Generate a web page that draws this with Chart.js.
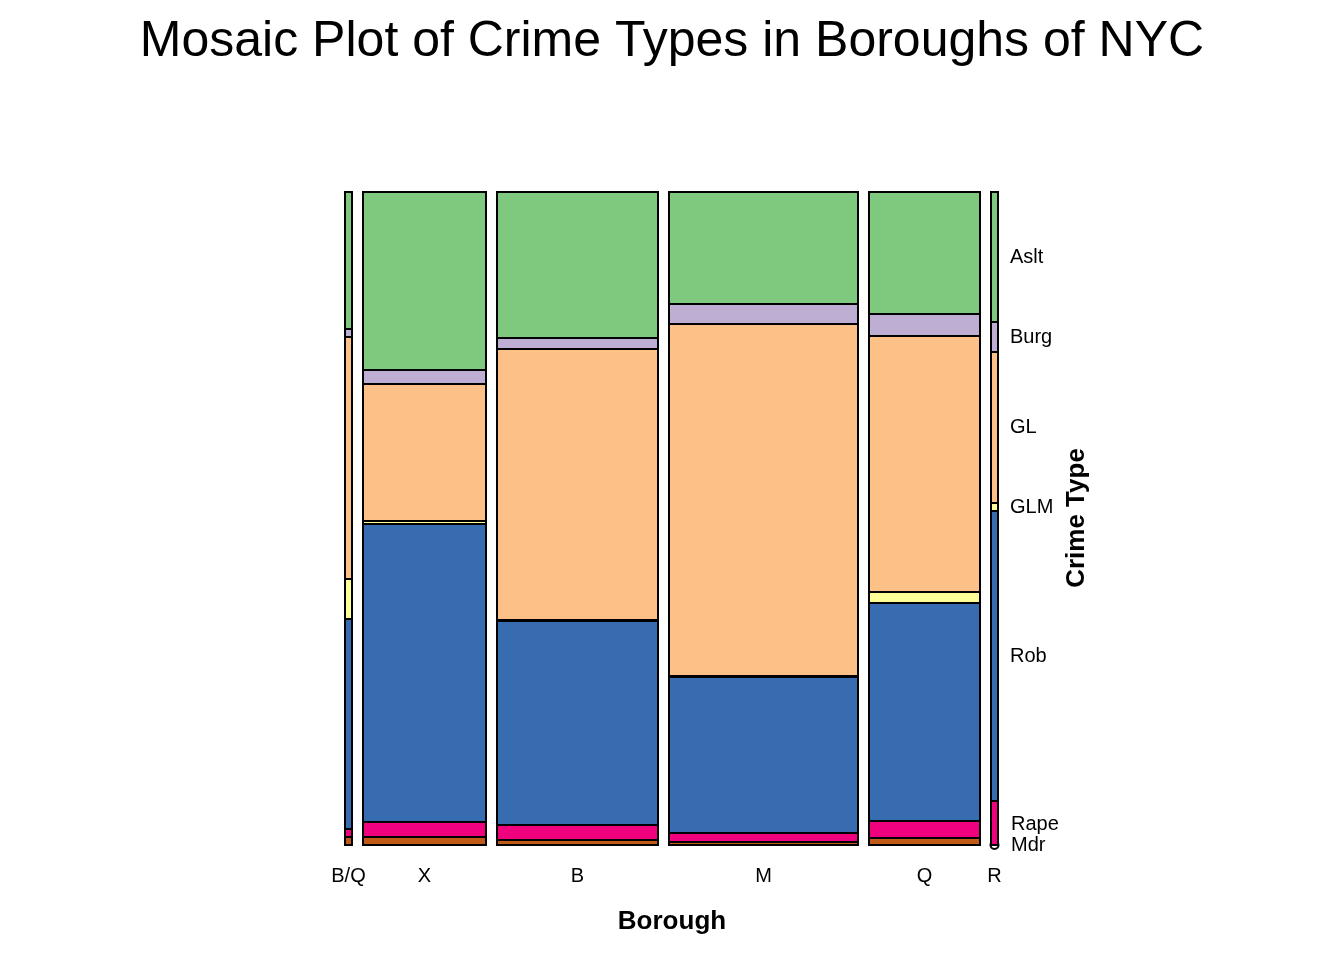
<!DOCTYPE html>
<html>
<head>
<meta charset="utf-8">
<script src="https://cdn.jsdelivr.net/npm/chart.js@4.4.0/dist/chart.umd.min.js"></script>
<style>
  html, body { margin: 0; padding: 0; background: #fff; }
  #wrap { width: 1344px; height: 960px; position: relative; }
</style>
</head>
<body>
<div id="wrap"><canvas id="mosaic"></canvas></div>
<script>
// Boroughs (columns) and their relative widths
const boroughs = ['B/Q', 'X', 'B', 'M', 'Q', 'R'];
const boroughWidths = [7, 123, 161, 189, 111, 7];

// Crime types, bottom to top
const crimeTypes = ['Mdr', 'Rape', 'Rob', 'GLM', 'GL', 'Burg', 'Aslt'];
const crimeColors = ['#BF5B17', '#F0027F', '#386CB0', '#FFFF99', '#FDC086', '#BEAED4', '#7FC97F'];

// Share of each crime type within a borough (bottom to top)
const shareBQ = [8, 8, 210, 40, 242, 8, 137];
const shareX  = [8, 15, 298, 3, 137, 14, 178];
const shareB  = [5, 15, 204, 1, 271, 11, 146];
const shareM  = [3, 9, 156, 1, 352, 20, 112];
const shareQ  = [7, 17, 218, 11, 256, 22, 122];
const shareR  = [0, 44, 290, 8, 151, 30, 130];
const shares = [shareBQ, shareX, shareB, shareM, shareQ, shareR];

const gap = 11;
const totalX = boroughWidths.reduce((a, b) => a + b, 0) + gap * (boroughs.length - 1);

const font = "'Liberation Sans', Arial, Helvetica, sans-serif";

const mosaicPlugin = {
    id: 'mosaic',
    afterDraw(chart) {
        const { ctx, scales: { x, y } } = chart;
        ctx.save();
        ctx.lineWidth = 2;
        ctx.strokeStyle = '#000';
        let x0 = 0;
        boroughs.forEach((name, i) => {
            const col = shares[i];
            const total = col.reduce((a, b) => a + b, 0);
            const x1 = x0 + boroughWidths[i];
            const px0 = x.getPixelForValue(x0), px1 = x.getPixelForValue(x1);
            let cum = 0;
            col.forEach((v, j) => {
                const y0 = cum / total, y1 = (cum + v) / total;
                cum += v;
                const py0 = y.getPixelForValue(y0), py1 = y.getPixelForValue(y1);
                if (v === 0) {
                    ctx.beginPath();
                    ctx.arc((px0 + px1) / 2, py0, 4, 0, Math.PI * 2);
                    ctx.stroke();
                    return;
                }
                ctx.fillStyle = crimeColors[j];
                ctx.fillRect(px0, py1, px1 - px0, py0 - py1);
                ctx.strokeRect(px0, py1, px1 - px0, py0 - py1);
            });
            // column label
            ctx.fillStyle = '#000';
            ctx.font = '20px ' + font;
            ctx.textAlign = 'center';
            ctx.textBaseline = 'middle';
            ctx.fillText(name, (px0 + px1) / 2, 876);
            x0 = x1 + gap;
        });

        // crime type labels along the last column
        const last = shares[shares.length - 1];
        const lastTotal = last.reduce((a, b) => a + b, 0);
        const labelX = x.getPixelForValue(totalX) + 12;
        let cum = 0;
        ctx.textAlign = 'left';
        ctx.font = '20px ' + font;
        crimeTypes.forEach((t, j) => {
            let mid = y.getPixelForValue((cum + last[j] / 2) / lastTotal);
            cum += last[j];
            if (t === 'Rape') mid = 824;
            ctx.fillText(t, t === 'Mdr' || t === 'Rape' ? labelX + 1 : labelX, mid);
        });

        // titles
        ctx.textAlign = 'center';
        ctx.font = '50px ' + font;
        ctx.fillText('Mosaic Plot of Crime Types in Boroughs of NYC', 672, 42);
        ctx.font = 'bold 26px ' + font;
        ctx.fillText('Borough', 672, 922);
        ctx.translate(1077, 518);
        ctx.rotate(-Math.PI / 2);
        ctx.fillText('Crime Type', 0, 0);
        ctx.restore();
    }
};

new Chart(document.getElementById('mosaic'), {
    type: 'scatter',
    data: { datasets: [] },
    options: {
        responsive: true,
        maintainAspectRatio: false,
        animation: false,
        layout: { padding: { left: 345, right: 346, top: 192, bottom: 115 } },
        plugins: { legend: { display: false }, tooltip: { enabled: false } },
        scales: {
            x: { type: 'linear', min: 0, max: totalX, display: false },
            y: { type: 'linear', min: 0, max: 1, display: false }
        }
    },
    plugins: [mosaicPlugin]
});
</script>
</body>
</html>
